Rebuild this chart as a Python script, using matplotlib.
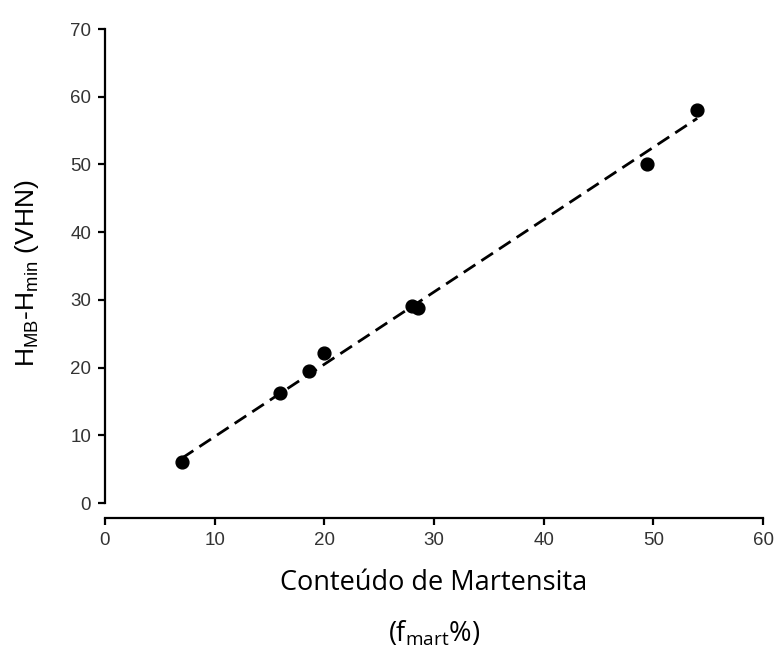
import matplotlib
matplotlib.use("Agg")
import matplotlib.pyplot as plt

# data
x_mart = [7.0, 16.0, 18.6, 20.0, 28.0, 28.5, 49.4, 54.0]
y_hard = [6.1, 16.3, 19.5, 22.2, 29.1, 28.8, 50.1, 58.0]
fit_x = [7.0, 54.0]
fit_y = [6.6, 56.8]
x_ticks = [0, 10, 20, 30, 40, 50, 60]
y_ticks = [0, 10, 20, 30, 40, 50, 60, 70]

fig = plt.figure(figsize=(7.76, 6.64), dpi=100)
ax = fig.add_axes([105/776, 1-503/664, (763-105)/776, (503-29)/664])

ax.plot(fit_x, fit_y, linestyle=(0, (5, 2.6)), color='black', linewidth=2.0, zorder=2)
ax.scatter(x_mart, y_hard, s=85, color='black', zorder=3)

ax.set_xlim(0, 60)
ax.set_ylim(0, 70)
ax.set_xticks(x_ticks)
ax.set_yticks(y_ticks)
for s in ['top', 'right']:
    ax.spines[s].set_visible(False)
ax.spines['bottom'].set_position(('outward', 11))
ax.spines['bottom'].set_bounds(0, 60)
ax.spines['left'].set_bounds(0, 70)
for s in ['bottom', 'left']:
    ax.spines[s].set_linewidth(1.6)
ax.tick_params(axis='both', direction='out', length=5, width=1.6, labelsize=13.5,
               labelcolor='#333333', pad=5)
for lab in ax.get_xticklabels() + ax.get_yticklabels():
    lab.set_fontfamily('Liberation Sans')

ax.set_ylabel('H$_{\\mathregular{MB}}$-H$_{\\mathregular{min}}$ (VHN)',
              fontsize=19, fontfamily='Liberation Sans', va='center')
ax.yaxis.set_label_coords(-0.118, 0.485)

xc = (105 + 763) / 2 / 776
fig.text(xc, 1 - 583/664, 'Conteúdo de Martensita', ha='center', va='center',
         fontsize=19.5, fontfamily='Open Sans')
fig.text(xc, 1 - 634/664, '(f$_{\\mathregular{mart}}$%)', ha='center', va='center',
         fontsize=19.5, fontfamily='Open Sans')

fig.savefig('out.png', dpi=100)
